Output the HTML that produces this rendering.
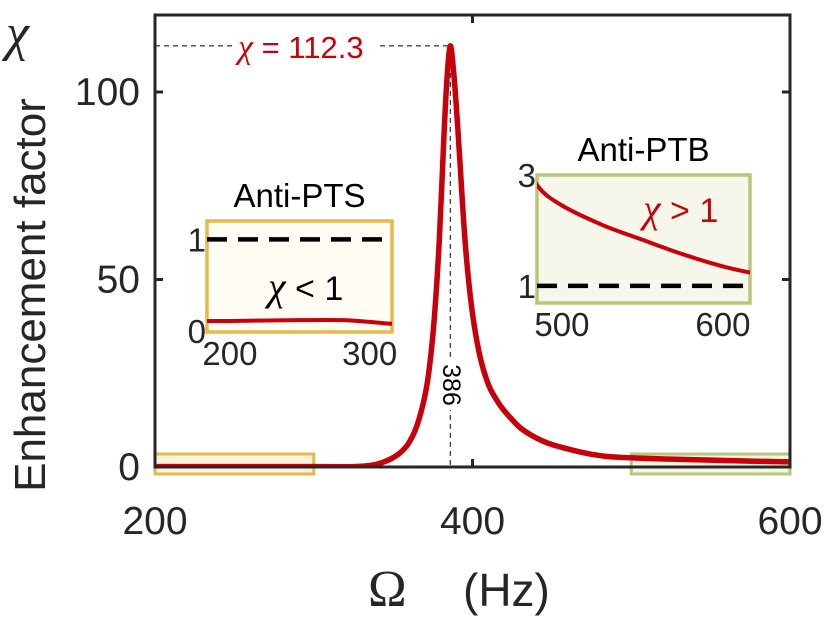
<!DOCTYPE html>
<html><head><meta charset="utf-8"><style>
body{margin:0;background:#fff;width:837px;height:619px;overflow:hidden}
svg{font-family:"Liberation Sans",sans-serif}
</style></head><body>
<svg id="c" width="837" height="619"></svg>
<script>
const omega=[180,200,250,280,300,316,325,333,340,345,350,355,360,365,370,373,376,379,382,384,386,388,390,392,395,398,401,405,410,415,420,430,440,450,465,475,485,500,525,550,575,600,620];
const chi=[0.11,0.11,0.12,0.12,0.1,0.08,0.1,0.3,0.8,1.5,2.5,4,6.5,11,19,27,40,60,88,104,112.3,106,95,82,62,48,38,29,22,18,15,10.5,7.8,6,4.3,3.4,2.8,2.45,2.1,1.83,1.57,1.35,1.22];
const xTicks=[200,400,600];
const yTicks=[0,50,100];
const peakOmega=386, peakChi=112.3;
const ptsTicksX=[200,300], ptsTicksY=[0,1];
const ptbTicksX=[500,600], ptbTicksY=[1,3];

const NS="http://www.w3.org/2000/svg";
const svg=document.getElementById('c');
function mk(t,a,p){const e=document.createElementNS(NS,t);for(const k in a)e.setAttribute(k,a[k]);(p||svg).appendChild(e);return e;}
function smooth(P){let d='M'+P[0][0].toFixed(1)+','+P[0][1].toFixed(1);
 for(let i=0;i<P.length-1;i++){const p0=P[i-1]||P[i],p1=P[i],p2=P[i+1],p3=P[i+2]||p2;
  const c1=[p1[0]+(p2[0]-p0[0])/6,p1[1]+(p2[1]-p0[1])/6],c2=[p2[0]-(p3[0]-p1[0])/6,p2[1]-(p3[1]-p1[1])/6];
  d+='C'+c1.map(v=>v.toFixed(1)).join(',')+' '+c2.map(v=>v.toFixed(1)).join(',')+' '+p2[0].toFixed(1)+','+p2[1].toFixed(1);}
 return d;}
const X0=155,X1=790,Y0=467,Y1=15;
const xs=v=>X0+(v-200)/400*(X1-X0);
const ys=v=>Y0-v*3.75;

let r=mk('rect',{x:xs(200),y:454,width:xs(300)-xs(200),height:20,fill:'#fbf3dc',stroke:'#e5b94c','stroke-width':3});

r=mk('rect',{x:xs(500),y:454,width:xs(600)-xs(500),height:20,fill:'#f4f5e4',stroke:'#b9c47e','stroke-width':3});


const defs=mk('defs',{});
const cp=mk('clipPath',{id:'mc'},defs);mk('rect',{x:X0,y:Y1,width:X1-X0,height:Y0-Y1},cp);

let g=mk('line',{x1:X0,y1:ys(peakChi),x2:xs(peakOmega),y2:ys(peakChi),stroke:'#000','stroke-width':1,'stroke-dasharray':'5 4'});

g=mk('line',{x1:xs(peakOmega),y1:ys(peakChi),x2:xs(peakOmega),y2:Y0,stroke:'#000','stroke-width':1,'stroke-dasharray':'5 4'});


const mainPts=[];omega.forEach((o,i)=>{if(o>=200&&o<=600)mainPts.push([xs(o),ys(chi[i])]);});
let cv=mk('path',{d:smooth(mainPts),fill:'none',stroke:'#c8000a','stroke-width':5.5,'stroke-linejoin':'round','clip-path':'url(#mc)'});


mk('rect',{x:232,y:26,width:146,height:38,fill:'#fff'});
let t=mk('text',{x:238,y:58,'font-size':31,fill:'#c8000a'});
t.innerHTML='<tspan font-family="Liberation Serif" font-style="italic" font-size="34">χ</tspan> = '+peakChi;

mk('rect',{x:437,y:360,width:28,height:50,fill:'#fff'});
t=mk('text',{x:0,y:0,'font-size':25,fill:'#000',transform:`translate(443,385) rotate(90)`,'text-anchor':'middle'});
t.textContent=peakOmega;


let fr=mk('rect',{x:X0,y:Y1,width:X1-X0,height:Y0-Y1,fill:'none',stroke:'#262626','stroke-width':3});

xTicks.forEach(v=>{
 mk('line',{x1:xs(v),y1:Y0,x2:xs(v),y2:Y0-8,stroke:'#262626','stroke-width':3});
 mk('line',{x1:xs(v),y1:Y1,x2:xs(v),y2:Y1+8,stroke:'#262626','stroke-width':3});
 const e=mk('text',{x:xs(v),y:534,'font-size':39,'text-anchor':'middle',fill:'#262626'});e.textContent=v;
 
});
yTicks.forEach(v=>{
 mk('line',{x1:X0,y1:ys(v),x2:X0+8,y2:ys(v),stroke:'#262626','stroke-width':3});
 mk('line',{x1:X1,y1:ys(v),x2:X1-8,y2:ys(v),stroke:'#262626','stroke-width':3});
 const e=mk('text',{x:140,y:ys(v)+13,'font-size':39,'text-anchor':'end',fill:'#262626'});e.textContent=v;
 
});
t=mk('text',{x:0,y:0,'font-size':44,'text-anchor':'middle',fill:'#262626',transform:'translate(45,295) rotate(-90)'});
t.textContent='Enhancement factor';
t=mk('text',{x:6,y:50,'font-size':52,'font-style':'italic','font-family':'Liberation Serif',fill:'#262626'});
t.textContent='χ';
t=mk('text',{x:368,y:606,'font-size':52,'font-family':'Liberation Serif',fill:'#262626'});
t.textContent='Ω';
t=mk('text',{x:463,y:606,'font-size':46,fill:'#262626'});
t.textContent='(Hz)';

function inset(name,bx0,bx1,by0,by1,dx0,dx1,dy0,dy1,fill,stroke,ticksX,ticksY,title,label,labelX,labelY,labelColor){
 const ix=v=>bx0+(v-dx0)/(dx1-dx0)*(bx1-bx0);
 const iy=v=>by1-(v-dy0)/(dy1-dy0)*(by1-by0);
 const gg=mk('g',{});
 mk('rect',{x:bx0,y:by0,width:bx1-bx0,height:by1-by0,fill:fill,stroke:stroke,'stroke-width':3.5},gg);
 const c=mk('clipPath',{id:name+'c'},defs);mk('rect',{x:bx0,y:by0,width:bx1-bx0,height:by1-by0},c);
 const dl=mk('line',{x1:bx0,y1:iy(1),x2:bx1,y2:iy(1),stroke:'#000','stroke-width':4.5,'stroke-dasharray':'20 11'},gg);
 
 const P=[];omega.forEach((o,i)=>{if(o>=dx0-15&&o<=dx1+15)P.push([ix(o),iy(chi[i])]);});
 const cc=mk('path',{d:smooth(P),fill:'none',stroke:'#c8000a','stroke-width':4,'clip-path':`url(#${name}c)`},gg);
 
 ticksX.forEach(v=>{const e=mk('text',{x:ix(v),y:by1+33,'font-size':33,'text-anchor':'middle',fill:'#262626'},gg);e.textContent=v;});
 ticksY.forEach(v=>{const e=mk('text',{x:bx0-1,y:iy(v)+12,'font-size':33,'text-anchor':'end',fill:'#262626'},gg);e.textContent=v;});
 const tt=mk('text',{x:(bx0+bx1)/2,y:by0-14,'font-size':33,'text-anchor':'middle',fill:'#000'},gg);tt.textContent=title;
 const lb=mk('text',{x:labelX,y:labelY,'font-size':34,fill:labelColor},gg);
 lb.innerHTML='<tspan font-family="Liberation Serif" font-style="italic" font-size="40">χ</tspan> '+label;
}
inset('anti-pts-inset',207,392,221,332,183.6,316,-0.01,1.2,'#fefcf3','#e5b94c',ptsTicksX,ptsTicksY,'Anti-PTS','< 1',268,300,'#000');
inset('anti-ptb-inset',537,750,175,303,484.5,616.8,0.69,3,'#f6f7ea','#b9c47e',ptbTicksX,ptbTicksY,'Anti-PTB','> 1',643,222,'#c8000a');
</script>
</body></html>
